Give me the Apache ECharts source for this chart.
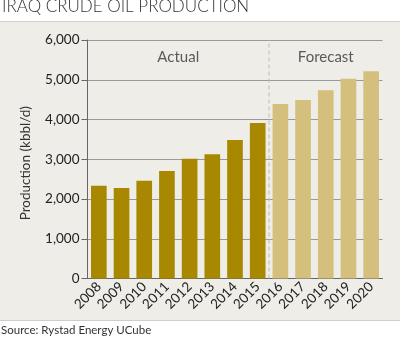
<!DOCTYPE html>
<html>
<head>
<meta charset="utf-8">
<script src="https://cdn.jsdelivr.net/npm/echarts@6/dist/echarts.min.js"></script>
<style>
html,body{margin:0;padding:0;background:#fff;}
#c{width:400px;height:339px;}
</style>
</head>
<body>
<div id="c"></div>
<script>
const titleText = "IRAQ CRUDE OIL PRODUCTION";
const sourceText = "Source: Rystad Energy UCube";
const actualYears = ["2008","2009","2010","2011","2012","2013","2014","2015"];
const actualValues = [2335, 2277, 2460, 2704, 3014, 3124, 3484, 3912];
const forecastYears = ["2016","2017","2018","2019","2020"];
const forecastValues = [4390, 4491, 4735, 5027, 5213];
const yTicks = [0, 1000, 2000, 3000, 4000, 5000, 6000];
const yAxisName = "Production (kbbl/d)";
const sectionLabels = ["Actual", "Forecast"];

const categories = actualYears.concat(forecastYears);
const actualColor = "#a88800";
const forecastColor = "#d5bf7c";
const barData = actualValues.map(v => ({value: v, itemStyle: {color: actualColor}}))
  .concat(forecastValues.map(v => ({value: v, itemStyle: {color: forecastColor}})));

const nA = actualYears.length, nF = forecastYears.length, nAll = categories.length;
const font = "Lato, 'Open Sans', sans-serif";

const chart = echarts.init(document.getElementById('c'), null, {renderer: 'canvas'});
chart.setOption({
  animation: false,
  backgroundColor: '#ffffff',
  graphic: [
    {type: 'rect', z: -10, shape: {x: -1, y: 21.5, width: 402, height: 299}, style: {fill: '#eeede8', stroke: '#cfcfca', lineWidth: 1}},
    {type: 'text', left: 2, top: -2, style: {text: titleText, font: "300 17px Lato, sans-serif", fill: '#333', letterSpacing: 0.9}},
    {type: 'text', left: 1, top: 324, style: {text: sourceText, font: "11.5px Lato, sans-serif", fill: '#333'}}
  ],
  grid: {left: 87.5, right: 17.5, top: 40, bottom: 60.5, containLabel: false},
  xAxis: [
    {
      type: 'category', data: categories,
      axisLine: {lineStyle: {color: '#666', width: 1}},
      axisTick: {show: false},
      axisLabel: {rotate: 45, color: '#222', fontSize: 13.5, fontFamily: font, margin: 6, interval: 0}
    },
    {type: 'value', min: 0, max: nAll, show: false}
  ],
  yAxis: {
    type: 'value', min: yTicks[0], max: yTicks[yTicks.length - 1], interval: yTicks[1] - yTicks[0],
    name: yAxisName, nameLocation: 'middle', nameGap: 55, nameRotate: 90,
    nameTextStyle: {color: '#333', fontSize: 13.5, fontFamily: font, padding: [0, 8, 0, 0]},
    axisLine: {show: true, lineStyle: {color: '#666', width: 1}},
    axisTick: {show: true, length: 6, lineStyle: {color: '#666'}},
    axisLabel: {color: '#222', fontSize: 13.5, fontFamily: font, margin: 8,
      formatter: v => v.toLocaleString('en-US')},
    splitLine: {show: true, lineStyle: {color: '#999', width: 1}}
  },
  series: [
    {type: 'bar', data: barData, barWidth: '69%', xAxisIndex: 0},
    {
      type: 'line', xAxisIndex: 1, symbol: 'none', z: 1,
      data: [[nA, yTicks[0]], [nA, yTicks[yTicks.length - 1]]],
      lineStyle: {color: '#bdbcb6', width: 1, type: [4, 3]}
    },
    {
      type: 'scatter', xAxisIndex: 1, symbolSize: 0, silent: true,
      data: [[nA / 2, 5570], [nA + nF / 2, 5570]],
      label: {show: true, position: 'inside', color: '#333', fontSize: 15, fontFamily: font,
        formatter: p => sectionLabels[p.dataIndex]}
    }
  ]
});
</script>
</body>
</html>
